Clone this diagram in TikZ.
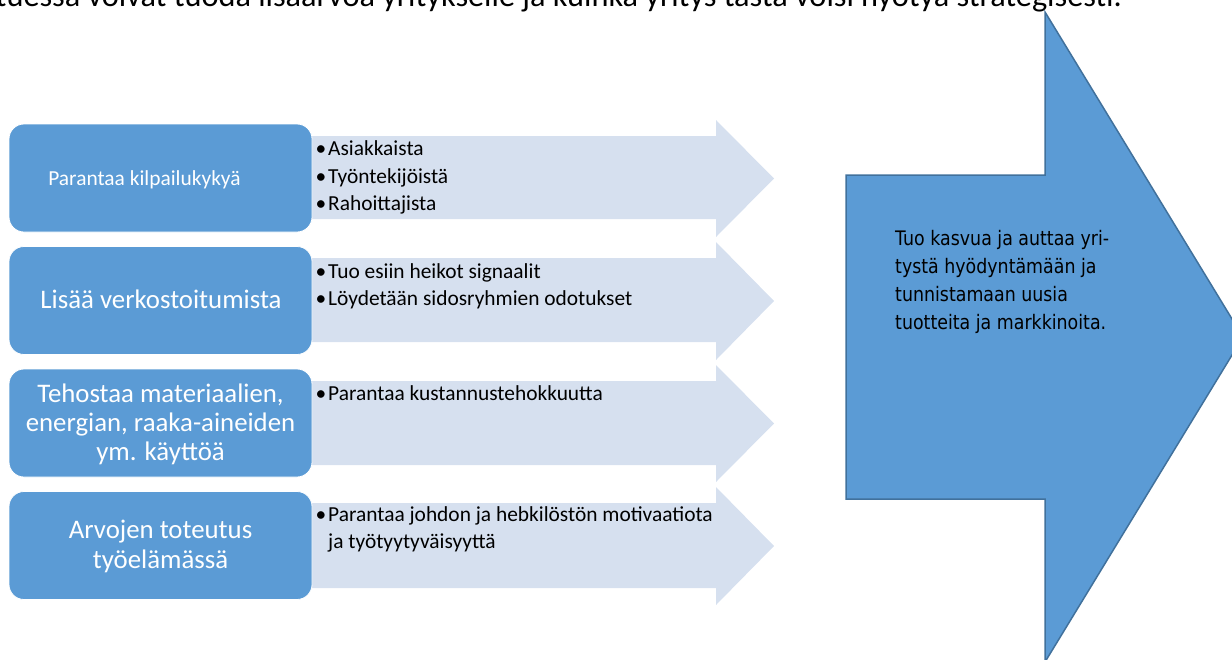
\documentclass[tikz,border=0pt]{standalone}
\usepackage{fontspec}
\setmainfont{Carlito}
\newfontfamily\vfont[FakeStretch=0.87]{DejaVu Sans}
\definecolor{boxblue}{HTML}{5B9BD5}
\definecolor{lightarrow}{HTML}{D6E0EF}
\definecolor{arrowedge}{HTML}{41719C}
\tikzset{
  sidebox/.style={draw=white, line width=0.8pt, fill=boxblue, rounded corners=15pt, minimum width=303pt, minimum height=108pt, inner sep=0pt},
  boxtext/.style={anchor=base, inner sep=0pt, text=white, font=\fontsize{26.8}{32}\selectfont},
  smallboxtext/.style={anchor=base, inner sep=0pt, text=white, font=\fontsize{21.4}{26}\selectfont},
  bullettext/.style={anchor=base west, inner sep=0pt, text=black, font=\fontsize{21.4}{27}\selectfont},
  bigtext/.style={anchor=base west, inner sep=0pt, text=black, font=\vfont\fontsize{20}{27}\selectfont},
  lightarrowshape/.style={fill=lightarrow, draw=none}
}
\newcommand{\bul}{\llap{•\hspace{2pt}}}
\begin{document}
\begin{tikzpicture}[x=1pt,y=-1pt]
\useasboundingbox (0,0) rectangle (1232,659);
\clip (0,0) rectangle (1232,659);

% title (cut off at top, as in the reference)
\node[anchor=base east, inner sep=0pt, font=\fontsize{32.3}{40}\selectfont] (title) at (1122,6)
  {tuessa voivat tuoda lisäarvoa yritykselle ja kuinka yritys tästä voisi hyötyä strategisesti.};

% light arrows
\foreach \ht/\st/\sb/\hb in {120/136/219/237, 242/258/342/360, 365/381/465/482, 487/503/588/605}{
  \fill[lightarrowshape] (300,\st) -- (716,\st) -- (716,\ht) -- (774,{(\ht+\hb)/2}) -- (716,\hb) -- (716,\sb) -- (300,\sb) -- cycle;
}

% left boxes
\node[sidebox] (b1) at (160.5,178) {};
\node[sidebox] (b2) at (160.5,300.5) {};
\node[sidebox] (b3) at (160.5,423) {};
\node[sidebox] (b4) at (160.5,545.5) {};

\node[smallboxtext] (t1) at (144.5,185) {Parantaa kilpailukykyä};
\node[boxtext] (t2) at (161,308.3) {Lisää verkostoitumista};
\node[boxtext] (t3a) at (160.5,402.3) {Tehostaa materiaalien,};
\node[boxtext] (t3b) at (160.5,431.7) {energian, raaka-aineiden};
\node[boxtext] (t3c) at (160.5,460.5) {ym. käyttöä};
\node[boxtext] (t4a) at (160.5,538.3) {Arvojen toteutus};
\node[boxtext] (t4b) at (160.5,568.3) {työelämässä};

% bullet texts
\node[bullettext] (a1a) at (328,155) {\bul Asiakkaista};
\node[bullettext] (a1b) at (328,183) {\bul Työntekijöistä};
\node[bullettext] (a1c) at (328,210) {\bul Rahoittajista};
\node[bullettext] (a2a) at (328,278.3) {\bul Tuo esiin heikot signaalit};
\node[bullettext] (a2b) at (328,305) {\bul Löydetään sidosryhmien odotukset};
\node[bullettext] (a3a) at (328,400) {\bul Parantaa kustannustehokkuutta};
\node[bullettext] (a4a) at (328,521.7) {\bul Parantaa johdon ja hebkilöstön motivaatiota};
\node[bullettext] (a4b) at (328,548.3) {ja työtyytyväisyyttä};

% big arrow
\draw[arrowedge, fill=boxblue, line width=1.5pt, line join=miter]
  (846,175) -- (1045,175) -- (1045,12) -- (1243,337) -- (1045,662) -- (1045,499) -- (846,499) -- cycle;
\node[bigtext] (c1) at (895,245.6) {Tuo kasvua ja auttaa yri-};
\node[bigtext] (c2) at (895,273.4) {tystä hyödyntämään ja};
\node[bigtext] (c3) at (895,301.2) {tunnistamaan uusia};
\node[bigtext] (c4) at (895,329) {tuotteita ja markkinoita.};
\end{tikzpicture}
\end{document}
